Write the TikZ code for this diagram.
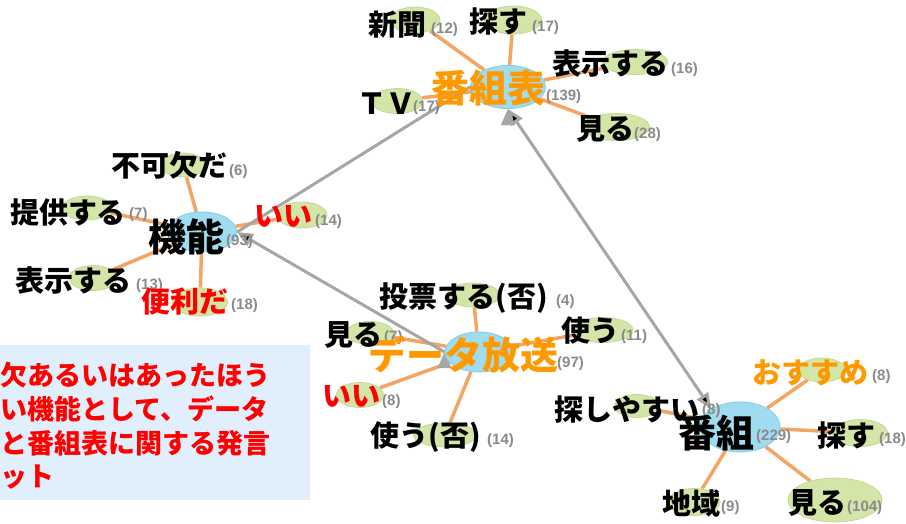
\documentclass[tikz,border=0pt]{standalone}
\usepackage{fontspec}
\setmainfont{Noto Sans CJK JP}
\newfontfamily\numfont{Liberation Sans}
\usetikzlibrary{shapes.geometric,arrows.meta,backgrounds}

\definecolor{hubblue}{HTML}{A0DCF0}
\definecolor{hubedge}{HTML}{86D0EC}
\definecolor{leafgreen}{HTML}{D4E5A8}
\definecolor{leafedge}{HTML}{C3D993}
\definecolor{linkorange}{HTML}{F4A563}
\definecolor{wordorange}{HTML}{FF9900}
\definecolor{relgray}{HTML}{A6A6A6}
\definecolor{countgray}{HTML}{8A8A8A}
\definecolor{memoblue}{HTML}{E1EFFC}

\tikzset{
  hub/.style={shape=ellipse, fill=hubblue, draw=hubedge, line width=1pt, inner sep=0pt},
  leaf/.style={shape=ellipse, fill=leafgreen, draw=leafedge, line width=0.8pt, inner sep=0pt},
  hubword/.style={font=\bfseries\fontsize{38}{38}\selectfont, inner sep=0pt},
  word/.style={font=\bfseries\fontsize{29}{29}\selectfont, inner sep=0pt},
  count/.style={font=\numfont\bfseries\fontsize{15}{15}\selectfont, text=countgray, inner sep=0pt, anchor=west},
  link/.style={draw=linkorange, line width=3.5pt},
  relation/.style={draw=relgray, line width=3pt},
  memo box/.style={shape=rectangle, fill=memoblue, inner sep=0pt, minimum width=310pt, minimum height=155pt},
  memo text/.style={font=\bfseries\fontsize{27}{33.7}\selectfont, text=red, align=left, inner sep=0pt, anchor=north west},
}

\begin{document}
\begin{tikzpicture}[x=1pt, y=-1pt]
        \useasboundingbox (0,0) rectangle (906,523);

        \node[memo box] (M) at (155,422.5) {};
        \node[memo text] (Mt) at (0,362) {欠あるいはあったほう\\い機能として、データ\\と番組表に関する発言\\ット};

        % 番組表
        \node[hub, minimum width=75pt, minimum height=43pt] (H1) at (508,87) {};
        \node[leaf, minimum width=51pt, minimum height=25pt] (A1) at (397,101) {};
        \node[leaf, minimum width=50pt, minimum height=26pt] (A2) at (415,20) {};
        \node[leaf, minimum width=57pt, minimum height=28pt] (A3) at (513,20) {};
        \node[leaf, minimum width=65pt, minimum height=25pt] (A4) at (635,62) {};
        \node[leaf, minimum width=67pt, minimum height=27pt] (A5) at (616,127) {};

        % 機能
        \node[hub, minimum width=69pt, minimum height=40pt] (H2) at (202,232) {};
        \node[leaf, minimum width=45pt, minimum height=24pt] (B1) at (183,165) {};
        \node[leaf, minimum width=50pt, minimum height=24pt] (B2) at (87,208) {};
        \node[leaf, minimum width=50pt, minimum height=26pt] (B3) at (302,215) {};
        \node[leaf, minimum width=48pt, minimum height=25pt] (B4) at (93,278) {};
        \node[leaf, minimum width=55pt, minimum height=28pt] (B5) at (200,302) {};

        % データ放送
        \node[hub, minimum width=68pt, minimum height=40pt] (H3) at (479,352) {};
        \node[leaf, minimum width=53pt, minimum height=24pt] (C1) at (473,295) {};
        \node[leaf, minimum width=60pt, minimum height=25pt] (C2) at (603,330) {};
        \node[leaf, minimum width=47pt, minimum height=23pt] (C3) at (370,333) {};
        \node[leaf, minimum width=47pt, minimum height=25pt] (C4) at (360,395) {};
        \node[leaf, minimum width=63pt, minimum height=24pt] (C5) at (445,435) {};

        % 番組
        \node[hub, minimum width=80pt, minimum height=50pt] (H4) at (740,427) {};
        \node[leaf, minimum width=45pt, minimum height=23pt] (D1) at (637,406) {};
        \node[leaf, minimum width=47pt, minimum height=24pt] (D2) at (822,370) {};
        \node[leaf, minimum width=55pt, minimum height=27pt] (D3) at (860,433) {};
        \node[leaf, minimum width=94pt, minimum height=44pt] (D4) at (835,500) {};
        \node[leaf, minimum width=52pt, minimum height=27pt] (D5) at (694,502) {};

        \begin{scope}[on background layer]
            \path[link] (H1) edge (A1) edge (A2) edge (A3) edge (A4) edge (A5);
            \path[link] (H2) edge (B1) edge (B2) edge (B3) edge (B4) edge (B5);
            \path[link] (H3) edge (C1) edge (C2) edge (C3) edge (C4) edge (C5);
            \path[link] (H4) edge (D1) edge (D2) edge (D3) edge (D4) edge (D5);

            \path[relation] (H2.east) edge (H1.west);
            \path[relation, -{Triangle[length=16pt, width=13pt]}] (H3.west) edge (H2.east);
            \path[relation, {Triangle[length=16pt, width=13pt]}-{Triangle[length=16pt, width=13pt]}] (H1.south) edge (H4.north west);
        \end{scope}

        % counts
        \node[count] (H1c) at (546,97) {(139)};
        \node[count] (A1c) at (413,108) {(17)};
        \node[count] (A2c) at (431,30) {(12)};
        \node[count] (A3c) at (532,28) {(17)};
        \node[count] (A4c) at (671,70) {(16)};
        \node[count] (A5c) at (634,135) {(28)};
        \node[count] (H2c) at (226,242) {(93)};
        \node[count] (B1c) at (229,172) {(6)};
        \node[count] (B2c) at (129,215) {(7)};
        \node[count] (B3c) at (315,222) {(14)};
        \node[count] (B4c) at (136,286) {(13)};
        \node[count] (B5c) at (231,306) {(18)};
        \node[count] (H3c) at (557,364) {(97)};
        \node[count] (C1c) at (556,302) {(4)};
        \node[count] (C2c) at (621,337) {(11)};
        \node[count] (C3c) at (384,338) {(7)};
        \node[count] (C4c) at (382,402) {(8)};
        \node[count] (C5c) at (487,441) {(14)};
        \node[count] (H4c) at (756,437) {(229)};
        \node[count] (D1c) at (702,411) {(8)};
        \node[count] (D2c) at (872,377) {(8)};
        \node[count] (D3c) at (879,440) {(18)};
        \node[count] (D4c) at (847,508) {(104)};
        \node[count] (D5c) at (721,508) {(9)};

        % words
        \node[hubword, text=wordorange] (H1t) at (488,88) {番組表};
        \node[word] (A1t) at (386,104) {ＴＶ};
        \node[word] (A2t) at (397,25) {新聞};
        \node[word] (A3t) at (498,22) {探す};
        \node[word] (A4t) at (610,63) {表示する};
        \node[word] (A5t) at (605,129) {見る};

        \node[hubword] (H2t) at (186,237) {機能};
        \node[word] (B1t) at (169,165) {不可欠だ};
        \node[word] (B2t) at (68,212) {提供する};
        \node[word, text=red] (B3t) at (283,216) {いい};
        \node[word] (B4t) at (74,280) {表示する};
        \node[word, text=red] (B5t) at (185,302) {便利だ};

        \node[hubword, text=wordorange] (H3t) at (463,355) {データ放送};
        \node[word] (C1t) at (464,298) {投票する(否)};
        \node[word] (C2t) at (590,330) {使う};
        \node[word] (C3t) at (353,335) {見る};
        \node[word, text=red] (C4t) at (351,396) {いい};
        \node[word] (C5t) at (426,437) {使う(否)};

        \node[hubword] (H4t) at (716,433) {番組};
        \node[word] (D1t) at (627,410) {探しやすい};
        \node[word, text=wordorange] (D2t) at (810,373) {おすすめ};
        \node[word] (D3t) at (846,436) {探す};
        \node[word] (D4t) at (817,503) {見る};
        \node[word] (D5t) at (691,503) {地域};
\end{tikzpicture}
\end{document}
